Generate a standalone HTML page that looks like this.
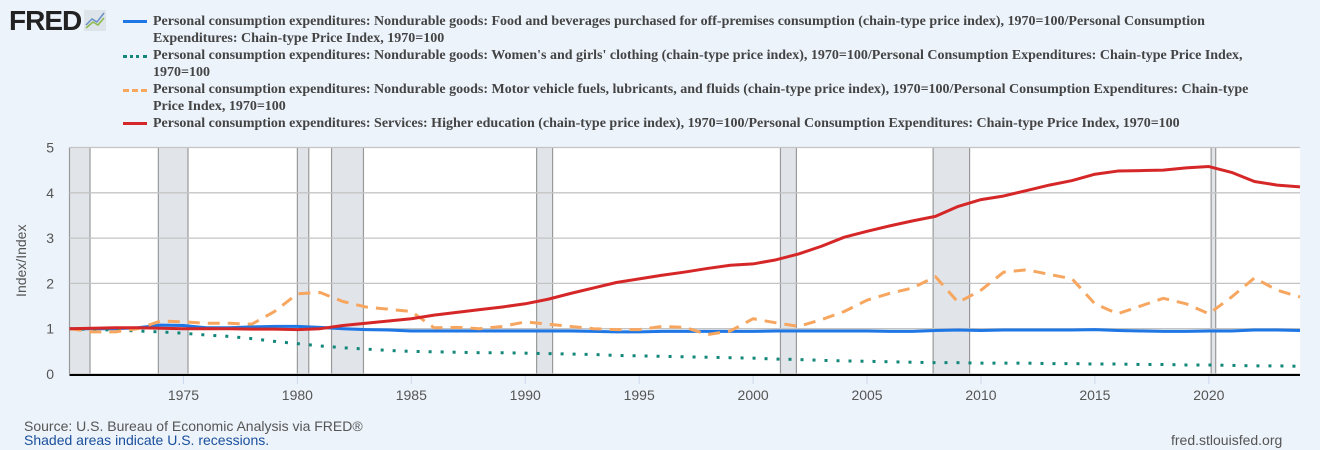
<!DOCTYPE html>
<html><head><meta charset="utf-8"><style>
body{margin:0;width:1320px;height:450px;background:#ecf3fb;overflow:hidden;position:relative;font-family:"Liberation Sans",sans-serif}
.leg{position:absolute;left:153px;width:1100px;font-family:"Liberation Serif",serif;font-weight:bold;font-size:14px;line-height:17px;color:#444}
.sw{position:absolute;left:123px;width:24px}
.src{position:absolute;font-size:14px;color:#555}
</style></head><body>
<div style="position:absolute;left:9px;top:6px;font:bold 28px 'Liberation Sans',sans-serif;color:#222;letter-spacing:-1px;line-height:30px">FRED<svg width="22" height="21" style="margin-left:3px;vertical-align:-1px"><rect width="22" height="21" fill="#dde4ea"/><polyline points="2,15 8,9 13,12 20,3" stroke="#6a8fc8" fill="none" stroke-width="1.5"/><polyline points="2,18 9,12 14,15 20,8" stroke="#8db84a" fill="none" stroke-width="1.5"/></svg></div>
<div class="sw" style="top:20px;border-top:3px solid #1f77e6"></div>
<div class="leg" style="top:13px">Personal consumption expenditures: Nondurable goods: Food and beverages purchased for off-premises consumption (chain-type price index), 1970=100/Personal Consumption Expenditures: Chain-type Price Index, 1970=100</div>
<div class="sw" style="top:55px;border-top:3px dotted #14877a"></div>
<div class="leg" style="top:47px">Personal consumption expenditures: Nondurable goods: Women's and girls' clothing (chain-type price index), 1970=100/Personal Consumption Expenditures: Chain-type Price Index, 1970=100</div>
<div class="sw" style="top:89px;border-top:3px dashed #f7a660"></div>
<div class="leg" style="top:81px">Personal consumption expenditures: Nondurable goods: Motor vehicle fuels, lubricants, and fluids (chain-type price index), 1970=100/Personal Consumption Expenditures: Chain-type Price Index, 1970=100</div>
<div class="sw" style="top:122px;border-top:3px solid #d62728"></div>
<div class="leg" style="top:115px;width:1160px">Personal consumption expenditures: Services: Higher education (chain-type price index), 1970=100/Personal Consumption Expenditures: Chain-type Price Index, 1970=100</div>
<svg id="chart" width="1320" height="450" style="position:absolute;left:0;top:0"></svg>
<div class="src" style="left:24px;top:418px">Source: U.S. Bureau of Economic Analysis via FRED®</div>
<div class="src" style="left:24px;top:432px;color:#1a4f9c">Shaded areas indicate U.S. recessions.</div>
<div class="src" style="left:1171px;top:432px">fred.stlouisfed.org</div>
<script>
const years=[];for(let y=1970;y<=2024;y++)years.push(y);
const food=[1.0,1.0,1.0,1.02,1.08,1.07,1.02,1.02,1.04,1.05,1.05,1.03,1.0,0.98,0.97,0.95,0.95,0.95,0.95,0.95,0.95,0.95,0.95,0.94,0.93,0.93,0.94,0.94,0.94,0.94,0.94,0.95,0.95,0.95,0.95,0.95,0.94,0.94,0.96,0.97,0.96,0.97,0.97,0.97,0.97,0.98,0.96,0.95,0.94,0.94,0.95,0.95,0.97,0.97,0.96];
const clothing=[1.0,0.98,0.97,0.95,0.93,0.9,0.86,0.83,0.78,0.72,0.67,0.62,0.58,0.55,0.52,0.5,0.49,0.48,0.47,0.47,0.46,0.45,0.44,0.43,0.41,0.4,0.39,0.38,0.37,0.36,0.35,0.33,0.32,0.3,0.29,0.28,0.27,0.26,0.25,0.25,0.24,0.24,0.24,0.23,0.23,0.22,0.22,0.21,0.21,0.2,0.2,0.19,0.18,0.18,0.17];
const fuel=[1.0,0.93,0.93,1.0,1.17,1.15,1.12,1.12,1.1,1.38,1.77,1.8,1.6,1.48,1.43,1.38,1.02,1.03,1.0,1.05,1.15,1.1,1.05,1.0,0.98,0.98,1.05,1.03,0.87,0.95,1.22,1.13,1.05,1.2,1.38,1.63,1.78,1.9,2.15,1.58,1.85,2.25,2.3,2.2,2.1,1.55,1.33,1.5,1.67,1.55,1.33,1.7,2.12,1.85,1.7];
const edu=[1.0,1.01,1.02,1.02,1.01,1.0,1.0,1.0,0.99,0.99,0.98,1.0,1.07,1.12,1.17,1.22,1.3,1.36,1.42,1.48,1.55,1.65,1.78,1.9,2.02,2.1,2.18,2.25,2.33,2.4,2.43,2.52,2.65,2.82,3.02,3.15,3.27,3.38,3.48,3.7,3.85,3.93,4.05,4.17,4.27,4.41,4.48,4.49,4.5,4.55,4.58,4.45,4.25,4.17,4.13];
const recStart=[1969.9,1973.9,1980.0,1981.5,1990.5,2001.2,2007.9,2020.1];
const recEnd=[1970.9,1975.2,1980.5,1982.9,1991.2,2001.9,2009.5,2020.3];
const yTicks=[0,1,2,3,4,5];
const xTicks=[1975,1980,1985,1990,1995,2000,2005,2010,2015,2020];
const X0=69.5,X1=1300,Y0=374,Y1=147.5;
const xs=y=>X0+(y-1970)/(2024-1970)*(X1-X0);
const ys=v=>Y0-v/5*(Y0-Y1);
const svg=document.getElementById('chart');const NS='http://www.w3.org/2000/svg';
function mk(t,a){const e=document.createElementNS(NS,t);for(const k in a)e.setAttribute(k,a[k]);svg.appendChild(e);return e;}
let r=mk('rect',{x:X0,y:Y1,width:X1-X0,height:Y0-Y1,fill:'#fff'});


recStart.forEach((s,i)=>{const a=Math.max(s,1970),b=recEnd[i];
const e=mk('rect',{x:xs(a),y:Y1,width:xs(b)-xs(a),height:Y0-Y1,fill:'#e1e5ea'});


[a,b].forEach(v=>{const l=mk('line',{x1:xs(v),x2:xs(v),y1:Y1,y2:Y0,stroke:'#999','stroke-width':1.2});

});});
yTicks.forEach(t=>{const l=mk('line',{x1:X0,x2:X1,y1:ys(t),y2:ys(t),stroke:'#c4c4c4','stroke-width':1.3});


const tx=mk('text',{x:54,y:ys(t)+5,'font-size':14,fill:'#555','text-anchor':'end'});tx.textContent=t;

});
const ax=mk('line',{x1:X0,x2:X1,y1:Y0+1,y2:Y0+1,stroke:'#000','stroke-width':2});


xTicks.forEach(t=>{const l=mk('line',{x1:xs(t),x2:xs(t),y1:Y0+2,y2:Y0+10,stroke:'#ccd6eb'});


const tx=mk('text',{x:xs(t),y:Y0+26,'font-size':14,fill:'#555','text-anchor':'middle'});tx.textContent=t;

});
const yt=mk('text',{x:0,y:0,'font-size':14,fill:'#555','text-anchor':'middle',transform:'translate(26,'+((Y0+Y1)/2)+') rotate(-90)'});yt.textContent='Index/Index';


function series(d,st,name){const p=mk('polyline',Object.assign({points:d.map((v,i)=>xs(years[i])+','+ys(v)).join(' '),fill:'none','stroke-linejoin':'round'},st));

}
series(food,{stroke:'#1f77e6','stroke-width':3},'food-line');
series(clothing,{stroke:'#14877a','stroke-width':3,'stroke-dasharray':'3 9'},'clothing-line');
series(fuel,{stroke:'#f7a660','stroke-width':3,'stroke-dasharray':'12 8'},'fuel-line');
series(edu,{stroke:'#d62728','stroke-width':3},'education-line');
</script>
</body></html>
